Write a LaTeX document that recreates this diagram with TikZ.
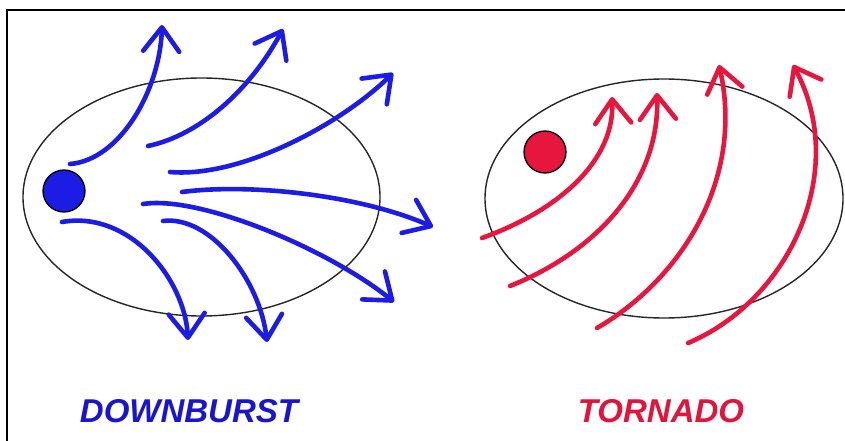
\documentclass[tikz,border=0pt]{standalone}
\usepackage{fontspec}
\setmainfont{Liberation Sans}
\usetikzlibrary{arrows.meta}
\definecolor{dbblue}{RGB}{28,28,228}
\definecolor{tored}{RGB}{230,22,62}
\definecolor{dbtext}{RGB}{25,20,205}
\definecolor{totext}{RGB}{225,20,60}
\tikzset{
  frameline/.style={line width=2.4pt,black},
  cloud/.style={draw=black!85,line width=1.4pt},
  dot/.style={circle,draw=black,line width=1.3pt,minimum size=42pt,inner sep=0pt},
  wind/.style={line width=4.6pt,line cap=round,-{Straight Barb[length=24pt,width=36pt,round]}},
  bluewind/.style={wind,draw=dbblue},
  redwind/.style={wind,draw=tored},
  label/.style={font=\fontsize{33}{33}\selectfont\bfseries\itshape,anchor=base,inner sep=0pt}
}
\begin{document}
\begin{tikzpicture}[x=1pt,y=-1pt]
\useasboundingbox (0,0) rectangle (845,441);
\fill[white] (0,0) rectangle (845,441);
\draw[frameline] (7,441) -- (7,10) -- (845,10);
% ellipses
\draw[cloud] (201.5,197) ellipse [x radius=178.5, y radius=119];
\draw[cloud] (664,198.5) ellipse [x radius=179, y radius=119.5];
% dots
\node[dot,fill=dbblue] (bdot) at (64,191) {};
\node[dot,fill=tored] (rdot) at (545,152) {};
% downburst arrows
\draw[bluewind] (70,164) .. controls (120,160) and (160,90) .. (162,25);
\draw[bluewind] (148,146) .. controls (200,135) and (250,90) .. (283,29);
\draw[bluewind] (170,172) .. controls (240,178) and (340,125) .. (393,73);
\draw[bluewind] (182,192) .. controls (250,183) and (360,195) .. (433,227);
\draw[bluewind] (143,204) .. controls (200,195) and (330,250) .. (394,302);
\draw[bluewind] (163,221) .. controls (210,215) and (260,280) .. (267,342);
\draw[bluewind] (62,222) .. controls (130,210) and (185,280) .. (188,340);
% tornado arrows
\draw[redwind] (482,238) .. controls (560,210) and (615,160) .. (612,97);
\draw[redwind] (510,286) .. controls (600,250) and (660,180) .. (657,93);
\draw[redwind] (597,328) .. controls (680,280) and (745,180) .. (719,65);
\draw[redwind] (688,343) .. controls (790,300) and (850,170) .. (793,65);
% labels
\node[label,text=dbtext] (dbl) at (189,422) {DOWNBURST};
\node[label,text=totext] (tol) at (661,422) {TORNADO};
\end{tikzpicture}
\end{document}
